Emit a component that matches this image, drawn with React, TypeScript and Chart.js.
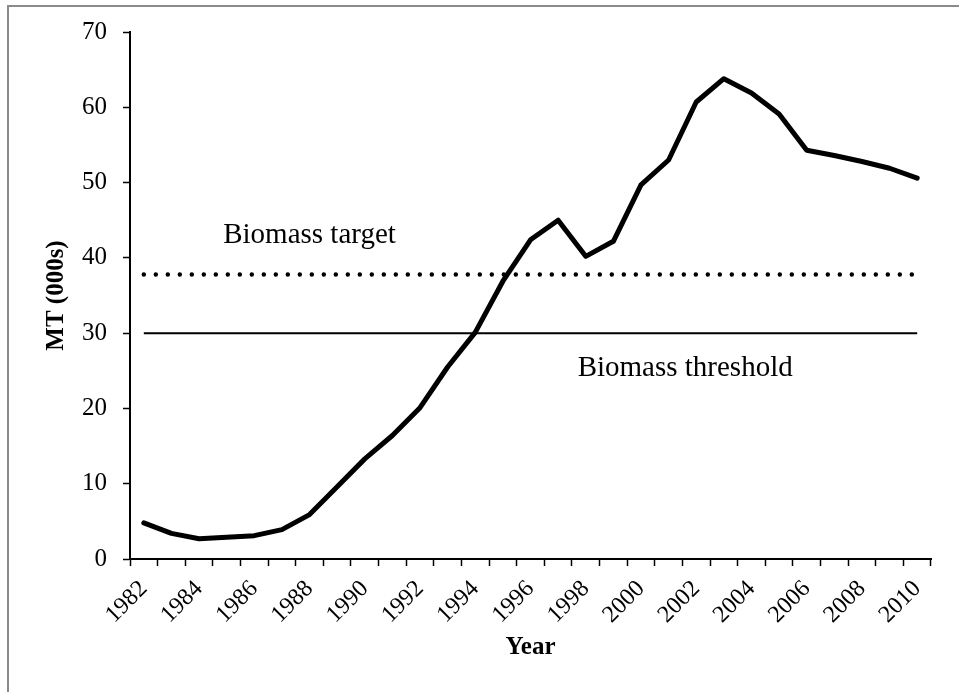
import React, { useEffect, useRef } from "react";
import { Chart, registerables } from "chart.js";

Chart.register(...registerables);

const years = [
  "1982", "1983", "1984", "1985", "1986", "1987", "1988", "1989", "1990", "1991",
  "1992", "1993", "1994", "1995", "1996", "1997", "1998", "1999", "2000", "2001",
  "2002", "2003", "2004", "2005", "2006", "2007", "2008", "2009", "2010",
];

const biomass = [
  4.8, 3.4, 2.7, 2.9, 3.1, 3.9, 5.9, 9.6, 13.3, 16.4,
  20.1, 25.5, 30.1, 36.9, 42.4, 45.0, 40.2, 42.2, 49.7, 53.0,
  60.7, 63.8, 61.9, 59.1, 54.3, 53.6, 52.8, 51.9, 50.6,
];

const targetLevel = 37.8;
const thresholdLevel = 30;

const yMin = 0;
const yMax = 70;
const yStep = 10;

const annotationTexts = ["Biomass target", "Biomass threshold"];
const annotationX = [6, 19.6];
const annotationY = [42.0, 24.3];

const FONT = "'Liberation Serif', 'Times New Roman', serif";

const frameAndLabels = {
  id: "frameAndLabels",
  beforeDraw(chart: any) {
    const ctx = chart.ctx;
    ctx.save();
    ctx.strokeStyle = "#8a8a8a";
    ctx.lineWidth = 2;
    ctx.beginPath();
    ctx.moveTo(8, 692);
    ctx.lineTo(8, 6);
    ctx.lineTo(959, 6);
    ctx.stroke();
    ctx.restore();
  },
  afterDatasetsDraw(chart: any) {
    const ctx = chart.ctx;
    const xs = chart.scales.x;
    const ys = chart.scales.y;
    ctx.save();
    ctx.fillStyle = "#000";
    ctx.font = `29px ${FONT}`;
    ctx.textAlign = "center";
    ctx.textBaseline = "alphabetic";
    annotationTexts.forEach((t, i) => {
      ctx.fillText(t, xs.getPixelForValue(annotationX[i]), ys.getPixelForValue(annotationY[i]));
    });
    ctx.restore();
  },
};

export default function App() {
  const ref = useRef<HTMLCanvasElement | null>(null);

  useEffect(() => {
    if (!ref.current) return;
    const chart = new Chart(ref.current, {
      type: "line",
      data: {
        labels: years,
        datasets: [
          {
            label: "Biomass",
            data: biomass,
            borderColor: "#000",
            borderWidth: 5,
            pointRadius: 0,
            tension: 0,
            borderJoinStyle: "round",
            borderCapStyle: "round",
            order: 0,
          },
          {
            label: "Biomass target",
            data: [
              { x: years[0], y: targetLevel },
              { x: years[years.length - 1], y: targetLevel },
            ],
            borderColor: "#000",
            borderWidth: 4.5,
            borderDash: [0, 12],
            borderCapStyle: "round",
            pointRadius: 0,
            order: 1,
          },
          {
            label: "Biomass threshold",
            data: [
              { x: years[0], y: thresholdLevel },
              { x: years[years.length - 1], y: thresholdLevel },
            ],
            borderColor: "#000",
            borderWidth: 2,
            pointRadius: 0,
            order: 2,
          },
        ] as any,
      },
      options: {
        responsive: false,
        animation: false,
        devicePixelRatio: 1,
        layout: { padding: { left: 0, top: 32, right: 28, bottom: 0 } },
        plugins: {
          legend: { display: false },
          tooltip: { enabled: false },
          title: { display: false },
        },
        scales: {
          x: {
            type: "category",
            offset: true,
            grid: {
              offset: true,
              drawOnChartArea: false,
              drawTicks: true,
              tickLength: 7,
              tickColor: "#000",
              tickWidth: 1.5,
            },
            border: { color: "#000", width: 2 },
            ticks: {
              autoSkip: false,
              minRotation: 45,
              maxRotation: 45,
              padding: 9,
              color: "#000",
              font: { family: FONT, size: 24 },
              callback: (_v: any, i: number) => (i % 2 === 0 ? years[i] : ""),
            },
            title: {
              display: true,
              text: "Year",
              color: "#000",
              font: { family: FONT, size: 25, weight: "bold" },
              padding: { top: 0, bottom: 29 },
            },
            afterFit: (s: any) => {
              s.height = 133;
            },
          },
          y: {
            min: yMin,
            max: yMax,
            grid: {
              drawOnChartArea: false,
              drawTicks: true,
              tickLength: 7,
              tickColor: "#000",
              tickWidth: 1.5,
            },
            border: { color: "#000", width: 2 },
            ticks: {
              stepSize: yStep,
              padding: 16,
              color: "#000",
              font: { family: FONT, size: 25 },
            },
            title: {
              display: true,
              text: "MT (000s)",
              color: "#000",
              font: { family: FONT, size: 25, weight: "bold" },
              padding: { top: 42, bottom: 0 },
            },
            afterFit: (s: any) => {
              s.width = 130;
            },
          },
        },
      },
      plugins: [frameAndLabels],
    });
    return () => chart.destroy();
  }, []);

  return (
    <canvas
      ref={ref}
      width={959}
      height={692}
      style={{ position: "fixed", left: 0, top: 0, width: 959, height: 692, background: "#fff" }}
    />
  );
}
